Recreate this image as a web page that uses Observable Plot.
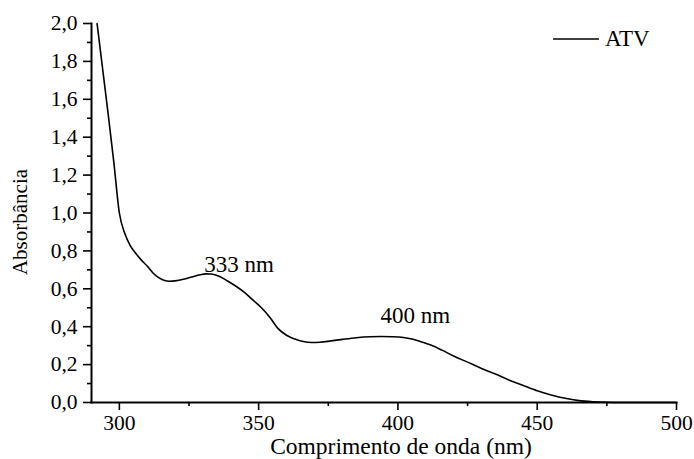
<!DOCTYPE html>
<html><head><meta charset="utf-8">
<script src="https://cdn.jsdelivr.net/npm/d3@7"></script>
<script src="https://cdn.jsdelivr.net/npm/@observablehq/plot@0.6"></script>
<style>
html,body{margin:0;padding:0;background:#fff;}
#wrap{position:relative;width:694px;height:459px;}
#wrap svg text, #wrap svg tspan, #legend, #legend span{font-family:'Liberation Serif','Times New Roman',serif;}
#legend{position:absolute;left:553px;top:26px;display:flex;align-items:center;font-size:23px;color:#000;line-height:26px;}
</style></head><body>
<div id="wrap"><div id="legend"><svg width="46" height="4" style="display:block"><line x1="0" x2="46" y1="2" y2="2" stroke="#000" stroke-width="1.6"/></svg><span id="legtext" style="margin-left:6px;font-family:'Liberation Serif',serif;font-size:23px"></span></div></div>
<script>
const seriesNames = ["ATV"];
const wavelength = [292, 294, 296, 298, 300, 302, 304, 306, 308, 310, 312, 314, 316, 318, 320, 323, 326, 329, 331, 333, 336, 339, 342, 345, 348, 351, 354, 357, 360, 363, 366, 369, 372, 376, 380, 385, 390, 394, 398, 402, 405, 408, 412, 416, 420, 425, 430, 435, 440, 445, 450, 455, 460, 465, 470, 475, 480, 490, 500];
const absorbance = [2.00, 1.76, 1.52, 1.27, 1.00, 0.89, 0.825, 0.785, 0.75, 0.72, 0.685, 0.66, 0.645, 0.640, 0.642, 0.650, 0.662, 0.674, 0.679, 0.678, 0.665, 0.640, 0.612, 0.580, 0.540, 0.500, 0.450, 0.390, 0.355, 0.335, 0.322, 0.317, 0.318, 0.325, 0.333, 0.342, 0.347, 0.348, 0.347, 0.343, 0.335, 0.322, 0.302, 0.275, 0.245, 0.213, 0.180, 0.150, 0.118, 0.090, 0.062, 0.040, 0.022, 0.010, 0.004, 0.001, 0.000, 0.000, 0.000];
const yTicks = [0, 0.2, 0.4, 0.6, 0.8, 1.0, 1.2, 1.4, 1.6, 1.8, 2.0];
const yMinor = [0.1, 0.3, 0.5, 0.7, 0.9, 1.1, 1.3, 1.5, 1.7, 1.9];
const xTicks = [300, 350, 400, 450, 500];
const xMinor = [325, 375, 425, 475];
const annLabels = ["333 nm", "400 nm"];
const annX = [330.5, 393.7];
const annY = [0.69, 0.42];
const xTitle = "Comprimento de onda (nm)";
const yTitle = "Absorbância";

document.getElementById("legtext").textContent = seriesNames[0];
const fmt = d => d3.format(".1f")(d).replace(".", ",");
const data = wavelength.map((w, i) => ({w, a: absorbance[i]}));
const serif = "'Liberation Serif', 'Times New Roman', serif";

const chart = Plot.plot({
  width: 694, height: 459,
  marginLeft: 91, marginRight: 18, marginTop: 23, marginBottom: 57,
  style: {fontFamily: serif, fontSize: "21px", color: "#000", background: "#fff", overflow: "visible"},
  x: {domain: [290, 500]},
  y: {domain: [0, 2]},
  marks: [
    Plot.axisY(yMinor, {tickSize: 4, tickFormat: () => "", label: null, strokeWidth: 1.6}),
    Plot.axisY(yTicks, {tickSize: 8, tickPadding: 6, tickFormat: fmt, label: null, strokeWidth: 1.6, fontSize: 21.5, fontFamily: serif}),
    Plot.axisX(xMinor, {tickSize: 4, tickFormat: () => "", label: null, strokeWidth: 1.6}),
    Plot.axisX(xTicks, {tickSize: 8, tickPadding: 4, tickFormat: d => String(d), label: null, strokeWidth: 1.6, fontSize: 21.5, fontFamily: serif}),
    Plot.frame({anchor: "left", strokeWidth: 2}),
    Plot.frame({anchor: "bottom", strokeWidth: 2}),
    Plot.line(data, {x: "w", y: "a", stroke: "#000", strokeWidth: 1.6, curve: "monotone-x"}),
    Plot.text(annLabels, {x: annX, y: annY, text: d => d, textAnchor: "start", lineAnchor: "bottom", fontSize: 23, fontFamily: serif, fill: "#000"}),
    Plot.text([xTitle], {frameAnchor: "bottom", text: d => d, textAnchor: "middle", dx: 17, dy: 44, lineAnchor: "middle", fontSize: 23.5, fontFamily: serif, fill: "#000"}),
    Plot.text([yTitle], {frameAnchor: "left", text: d => d, textAnchor: "middle", rotate: -90, dx: -71, dy: 9, lineAnchor: "middle", fontSize: 21, fontFamily: serif, fill: "#000"})
  ]
});
document.getElementById("wrap").prepend(chart);
chart.style.display = "block";
</script>
</body></html>
